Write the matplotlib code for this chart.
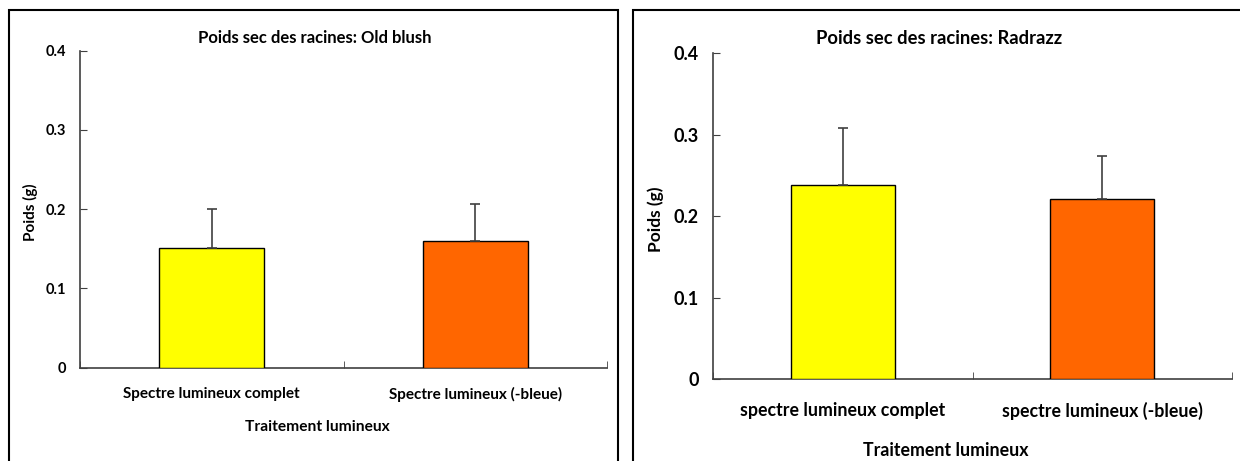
import matplotlib
matplotlib.use("Agg")
import matplotlib.pyplot as plt
from matplotlib.patches import Rectangle

plt.rcParams['font.family'] = ['Lato', 'DejaVu Sans']
plt.rcParams['font.weight'] = 'bold'

categories_old = ["Spectre lumineux complet", "Spectre lumineux (-bleue)"]
categories_rad = ["spectre lumineux complet", "spectre lumineux (-bleue)"]
old_blush = [0.151, 0.160]
old_blush_err = [0.049, 0.046]
radrazz = [0.238, 0.221]
radrazz_err = [0.070, 0.053]
bar_colors = ["#FFFF00", "#FF6600"]
yticks = [0, 0.1, 0.2, 0.3, 0.4]
ytick_labels = ["0", "0.1", "0.2", "0.3", "0.4"]

W, H = 1240, 461
fig = plt.figure(figsize=(W / 100, H / 100), dpi=100)


def px(x0, y0, x1, y1):
    # pixel box (top-left origin) -> figure fraction rect
    return [x0 / W, 1 - y1 / H, (x1 - x0) / W, (y1 - y0) / H]


def panel(rect, values, errs, cats, title, title_xy, xlab_xy, ylab_x, fs):
    tick_fs, cat_fs, title_fs, xlab_fs, ylab_fs, cat_pad = fs
    ax = fig.add_axes(px(*rect))
    x = range(len(values))
    ax.bar(x, values, width=0.4, color=bar_colors, edgecolor="black", linewidth=1)
    ax.errorbar(x, values, yerr=[[0, 0], errs], fmt="none", ecolor="#404040",
                elinewidth=1.2, capsize=3.5, capthick=1.2)
    ax.set_xlim(-0.5, 1.5)
    ax.set_ylim(0, 0.4)
    ax.set_yticks(yticks)
    ax.set_yticklabels(ytick_labels)
    ax.set_xticks(list(x))
    ax.set_xticklabels(cats)
    ax.set_xticks([-0.5, 0.5, 1.5], minor=True)
    ax.tick_params(axis="x", which="major", length=0, pad=cat_pad, labelsize=cat_fs)
    ax.tick_params(axis="x", which="minor", direction="in", length=5, color="#404040")
    ax.tick_params(axis="y", direction="in", length=5, pad=10, labelsize=tick_fs,
                   color="#404040")
    for s in ["top", "right"]:
        ax.spines[s].set_visible(False)
    for s in ["left", "bottom"]:
        ax.spines[s].set_color("#404040")
        ax.spines[s].set_linewidth(1.2)
    ax.spines["bottom"].set_zorder(0)
    fig.text(title_xy[0] / W, 1 - title_xy[1] / H, title, ha="center", va="center",
             fontsize=title_fs, fontweight="bold")
    fig.text(xlab_xy[0] / W, 1 - xlab_xy[1] / H, "Traitement lumineux", ha="center",
             va="center", fontsize=xlab_fs, fontweight="bold")
    yc = (rect[1] + rect[3]) / 2
    fig.text(ylab_x / W, 1 - (yc + 3) / H, "Poids (g)", rotation=90, ha="center",
             va="center", fontsize=ylab_fs, fontweight="bold")
    return ax


# panel borders
for x0, x1 in [(9, 618), (633, 1250)]:
    fig.patches.append(Rectangle((x0 / W, -0.1), (x1 - x0) / W, 1 - 10 / H + 0.1,
                                 transform=fig.transFigure, fill=False,
                                 edgecolor="black", linewidth=1.5, clip_on=False))

panel((80, 50.7, 607, 367.7), old_blush, old_blush_err, categories_old,
      "Poids sec des racines: Old blush", (315, 38), (317, 427), 30,
      (10.5, 11, 12, 11.2, 11, 14))
panel((713, 53.3, 1232, 379), radrazz, radrazz_err, categories_rad,
      "Poids sec des racines: Radrazz", (939, 38), (946, 450), 656,
      (13, 12.8, 13.2, 12.8, 12.5, 16.5))

fig.savefig("out.png", dpi=100)
